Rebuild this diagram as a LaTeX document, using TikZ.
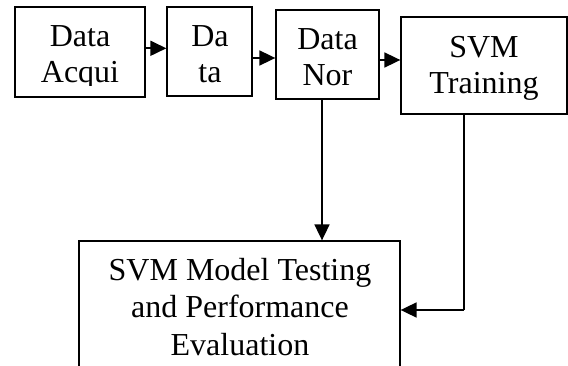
\documentclass[tikz,border=0pt]{standalone}
\usepackage{fontspec}
\setmainfont{Liberation Serif}
\usetikzlibrary{arrows.meta}
\tikzset{
  box/.style={draw=black, line width=1.3pt, inner sep=0pt, fill=none},
  lbl/.style={anchor=base, inner sep=0pt, font=\fontsize{32}{37}\selectfont},
  conn/.style={draw=black, line width=1.8pt, -{Triangle[length=16pt,width=15pt]}},
  wire/.style={draw=black, line width=1.8pt}
}
\begin{document}
\begin{tikzpicture}[x=1pt,y=1pt]
\clip (0,0) rectangle (568,365);
\fill[white] (0,0) rectangle (568,365);
% boxes
\node[box, minimum width=130pt, minimum height=90pt] (b1) at (80,313) {};
\node[box, minimum width=85pt, minimum height=89pt] (b2) at (209.5,313.5) {};
\node[box, minimum width=103pt, minimum height=89pt] (b3) at (327.5,310.5) {};
\node[box, minimum width=166pt, minimum height=97pt] (b4) at (484,299.5) {};
\node[box, minimum width=321pt, minimum height=150pt] (b5) at (239.5,49) {};
% texts
\node[lbl] (t1a) at (80,318) {Data};
\begin{scope}
\clip (15,279) rectangle (145,358);
\node[lbl] (t1b) at (80,282) {Acqui};
\end{scope}
\node[lbl] (t2a) at (210,318) {Da};
\node[lbl] (t2b) at (210,282) {ta};
\node[lbl] (t3a) at (327.5,315) {Data};
\node[lbl] (t3b) at (327.5,279.5) {Nor};
\node[lbl] (t4a) at (484,307) {SVM};
\node[lbl] (t4b) at (484,272) {Training};
\node[lbl] (t5a) at (240,85) {SVM Model Testing};
\node[lbl] (t5b) at (240,47.5) {and Performance};
\node[lbl] (t5c) at (240,10) {Evaluation};
% connector helpers
\coordinate (v3) at (322,0);
\coordinate (v4) at (464,0);
\coordinate (hb) at (0,55);
% connectors
\draw[conn] (b1.east |- 0,316.7) -- (b2.west |- 0,316.7);
\draw[conn] (b2.east |- 0,307) -- (b3.west |- 0,307);
\draw[conn] (b3.east |- 0,305) -- (b4.west |- 0,305);
\draw[conn] (b3.south -| v3) -- (b5.north -| v3);
\draw[wire] (b4.south -| v4) -- (v4 |- hb);
\draw[conn] (v4 |- hb) -- (b5.east |- hb);
\end{tikzpicture}
\end{document}
